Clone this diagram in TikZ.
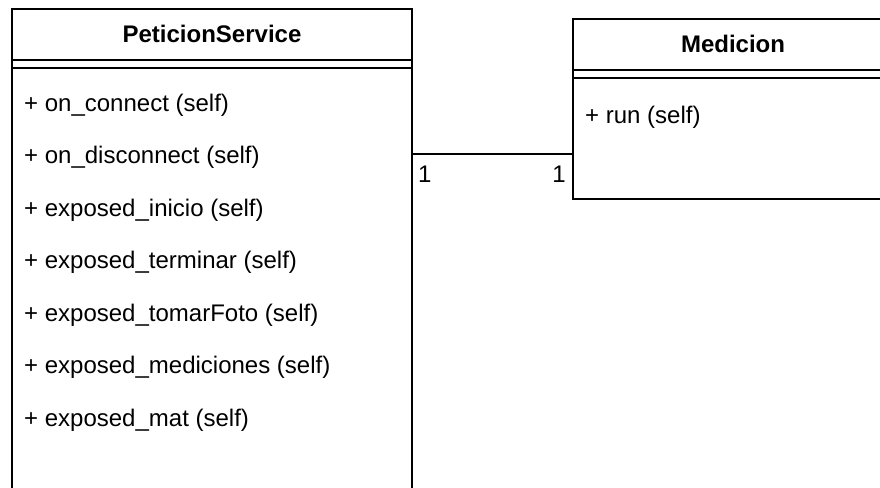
\documentclass[tikz,border=0pt]{standalone}
\usepackage{fontspec}
\setmainfont{Liberation Sans}
\begin{document}
\begin{tikzpicture}[x=1pt,y=-1pt,
  classbox/.style={draw, line width=2pt, fill=white, inner sep=0pt, anchor=north west},
  divider/.style={line width=2pt},
  member/.style={anchor=west, inner sep=0pt, font=\fontsize{24}{28}\selectfont},
  ctitle/.style={inner sep=0pt, font=\fontsize{24}{28}\selectfont\bfseries},
  mult/.style={inner sep=0pt, font=\fontsize{24}{28}\selectfont},
  assoc/.style={line width=2pt}]
\useasboundingbox (0,0) rectangle (880,487);
\clip (0,0) rectangle (880,487);
\fill[white] (0,0) rectangle (880,487);

% class PeticionService
\node[classbox, minimum width=400pt, minimum height=560pt] (svc) at (11,8) {};
\draw[divider] ([yshift=-52pt]svc.north west) -- ([yshift=-52pt]svc.north east);
\draw[divider] ([yshift=-60pt]svc.north west) -- ([yshift=-60pt]svc.north east);
\node[ctitle] (svctitle) at ([yshift=-26pt]svc.north) {PeticionService};
\node[member] (op1) at (24,105) {+ on\_connect (self)};
\node[member] (op2) at (24,157.5) {+ on\_disconnect (self)};
\node[member] (op3) at (24,210) {+ exposed\_inicio (self)};
\node[member] (op4) at (24,262.5) {+ exposed\_terminar (self)};
\node[member] (op5) at (24,315) {+ exposed\_tomarFoto (self)};
\node[member] (op6) at (24,367.5) {+ exposed\_mediciones (self)};
\node[member] (op7) at (24,420) {+ exposed\_mat (self)};

% class Medicion
\node[classbox, minimum width=320pt, minimum height=180pt] (med) at (572,18) {};
\draw[divider] ([yshift=-52pt]med.north west) -- ([yshift=-52pt]med.north east);
\draw[divider] ([yshift=-60pt]med.north west) -- ([yshift=-60pt]med.north east);
\node[ctitle] (medtitle) at ([yshift=-26pt]med.north) {Medicion};
\node[member] (run) at (585,117) {+ run (self)};

% association 1 -- 1
\path (svc.north east) ++(0,146) coordinate (ca);
\coordinate (cb) at (ca -| med.west);
\draw[assoc] (ca) -- (cb);
\node[mult, anchor=north west] (multa) at ([xshift=5pt,yshift=-12pt]ca) {1};
\node[mult, anchor=north east] (multb) at ([xshift=-6pt,yshift=-12pt]cb) {1};
\end{tikzpicture}
\end{document}
